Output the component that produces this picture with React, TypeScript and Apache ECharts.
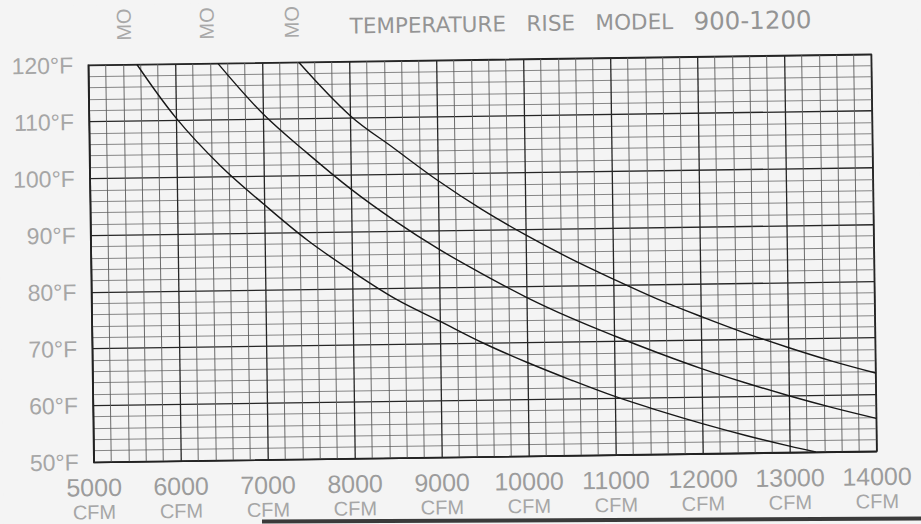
import React, { useEffect, useRef } from "react";
import * as echarts from "echarts";

// Air flow (CFM) and temperature (°F)
const cfm1 = [5560, 6000, 6500, 7000, 7500, 8000, 8500, 9000, 9500, 10000, 10500, 11000, 11500, 12000, 12500, 13000, 13300];
const temp1 = [120, 110.5, 102, 95, 88.5, 83, 78, 74, 70, 66.5, 63.3, 60.3, 57.7, 55.3, 53.1, 51.1, 50];

const cfm2 = [6490, 7000, 7500, 8000, 8500, 9000, 9500, 10000, 10500, 11000, 11500, 12000, 12500, 13000, 13500, 14000];
const temp2 = [120, 111, 104, 97.5, 91.8, 86.7, 82.2, 78, 74.3, 71, 67.9, 65, 62.4, 60, 57.8, 55.8];

const cfm3 = [7420, 8000, 8500, 9000, 9500, 10000, 10500, 11000, 11500, 12000, 12500, 13000, 13500, 14000];
const temp3 = [120, 110.5, 104.6, 98.8, 93.6, 89, 84.8, 81, 77.4, 74.2, 71.2, 68.5, 66, 63.8];

const xMin = 5000;
const xMax = 14000;
const xStep = 1000;
const yMin = 50;
const yMax = 120;
const yStep = 10;
const xUnit = "CFM";
const yUnit = "°F";
const titleWords = "TEMPERATURE   RISE   MODEL   ";
const titleModels = "900-1200";
const sideLabels = ["MO", "MO", "MO"];

const zip = (xs: number[], ys: number[]) => xs.map((x, i) => [x, ys[i]]);

export default function App() {
  const ref = useRef<HTMLDivElement>(null);

  useEffect(() => {
    if (!ref.current) return;
    const chart = echarts.init(ref.current, null, { renderer: "svg" });
    const curveStyle = { color: "#181818", width: 1.4 };
    const mkSeries = (name: string, xs: number[], ys: number[]) => ({
      name,
      type: "line",
      data: zip(xs, ys),
      smooth: 0.35,
      showSymbol: false,
      symbol: "none",
      clip: true,
      lineStyle: curveStyle,
      itemStyle: { color: "#181818" },
    });
    const sideX = [127, 210, 295];
    chart.setOption({
      animation: false,
      backgroundColor: "#f4f4f4",
      title: {
        text: `{a|${titleWords}}{b|${titleModels}}`,
        left: 348,
        top: 7,
        textStyle: {
          fontWeight: "normal",
          rich: {
            a: { fontFamily: "DejaVu Sans", fontSize: 21.5, fontWeight: "normal", color: "#949494" },
            b: { fontFamily: "DejaVu Sans", fontSize: 24.5, fontWeight: "normal", color: "#949494" },
          },
        },
      },
      graphic: sideLabels.map((t, i) => ({
        type: "text",
        x: sideX[i],
        y: 36,
        rotation: Math.PI / 2,
        style: {
          text: t,
          fontFamily: "Liberation Sans",
          fontSize: 20,
          fill: "#a8a8a8",
          align: "left",
          verticalAlign: "middle",
        },
      })),
      grid: {
        left: 91,
        top: 60,
        width: 783,
        height: 397,
        show: true,
        borderColor: "#222",
        borderWidth: 1.4,
        backgroundColor: "transparent",
      },
      xAxis: {
        type: "value",
        min: xMin,
        max: xMax,
        interval: xStep,
        axisLine: { show: true, lineStyle: { color: "#222", width: 1.4 } },
        axisTick: { show: false },
        minorTick: { show: false, splitNumber: 5 },
        splitLine: { show: true, lineStyle: { color: "#262626", width: 1.3 } },
        minorSplitLine: { show: true, lineStyle: { color: "#5c5c5c", width: 0.9 } },
        axisLabel: {
          margin: 11,
          formatter: (v: number) => `{n|${v}}\n{u|${xUnit}}`,
          rich: {
            n: { fontFamily: "Liberation Sans", fontSize: 25, color: "#9c9c9c", lineHeight: 28 },
            u: { fontFamily: "Liberation Sans", fontSize: 20, color: "#a6a6a6", lineHeight: 22 },
          },
        },
      },
      yAxis: {
        type: "value",
        min: yMin,
        max: yMax,
        interval: yStep,
        axisLine: { show: true, lineStyle: { color: "#222", width: 1.4 } },
        axisTick: { show: false },
        minorTick: { show: false, splitNumber: 5 },
        splitLine: { show: true, lineStyle: { color: "#262626", width: 1.3 } },
        minorSplitLine: { show: true, lineStyle: { color: "#7a7a7a", width: 0.9 } },
        axisLabel: {
          margin: 15,
          fontFamily: "Liberation Sans",
          fontSize: 23,
          color: "#a6a6a6",
          formatter: (v: number) => `${v}${yUnit}`,
        },
      },
      series: [
        mkSeries("Model 900", cfm1, temp1),
        mkSeries("Model 1050", cfm2, temp2),
        mkSeries("Model 1200", cfm3, temp3),
      ],
    });
    return () => chart.dispose();
  }, []);

  return (
    <div
      style={{
        position: "fixed",
        left: 0,
        top: 0,
        width: 921,
        height: 524,
        background: "#f4f4f4",
        overflow: "hidden",
      }}
    >
      <div
        ref={ref}
        style={{
          position: "absolute",
          left: 0,
          top: 0,
          width: 921,
          height: 524,
          transform: "rotate(-0.8deg)",
        }}
      />
      <div
        style={{
          position: "absolute",
          left: 262,
          top: 518,
          width: 680,
          height: 4,
          background: "#3a3a3a",
          transform: "rotate(-0.25deg)",
        }}
      />
    </div>
  );
}
